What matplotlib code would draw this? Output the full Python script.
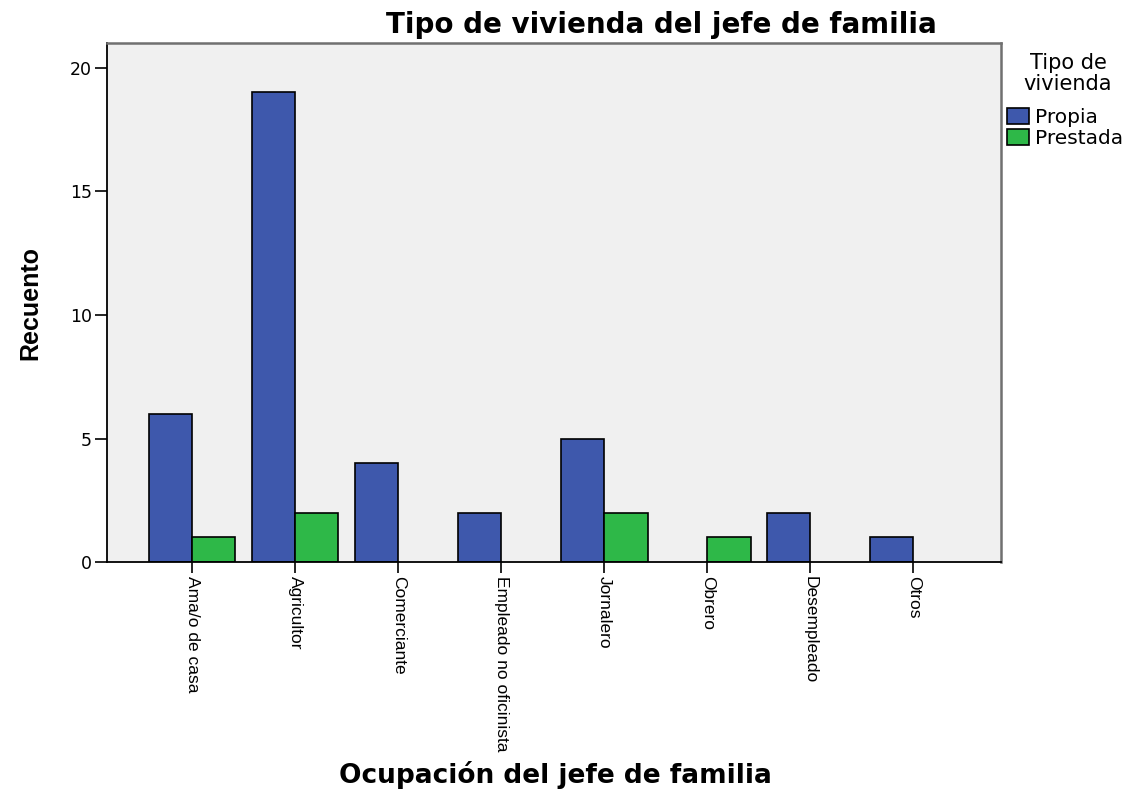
import matplotlib.pyplot as plt
import numpy as np

# Data
ocupaciones = ['Ama/o de casa', 'Agricultor', 'Comerciante', 'Empleado no oficinista',
               'Jornalero', 'Obrero', 'Desempleado', 'Otros']
propia = [6, 19, 4, 2, 5, 0, 2, 1]
prestada = [1, 2, 0, 0, 2, 1, 0, 0]

plt.rcParams['font.family'] = ['DejaVu Sans']

fig = plt.figure(figsize=(11.35, 7.94), dpi=100)
ax = fig.add_axes([0.0943, 0.292, 0.7877, 0.654])
ax.set_facecolor('#F0F0F0')

x = np.arange(len(ocupaciones))
w = 0.42
# no outline for empty bars
lw_a = [1.2 if v > 0 else 0 for v in propia]
lw_b = [1.2 if v > 0 else 0 for v in prestada]
ax.bar(x - w / 2, propia, w, color='#3E58AC', edgecolor='black', linewidth=lw_a, label='Propia')
ax.bar(x + w / 2, prestada, w, color='#2EB848', edgecolor='black', linewidth=lw_b, label='Prestada')

ax.set_xlim(-0.825, 7.85)
ax.set_ylim(0, 21)
ax.set_yticks([0, 5, 10, 15, 20])
ax.set_xticks(x)
ax.set_xticklabels(ocupaciones, rotation=-90, fontsize=12.5, va='top', ha='center',
                   family='Liberation Sans')
ax.tick_params(axis='y', length=9, width=1.2, labelsize=12.5, pad=2)
ax.tick_params(axis='x', length=8, width=1.2, pad=2)

for s in ['left', 'bottom']:
    ax.spines[s].set_color('black')
    ax.spines[s].set_linewidth(1.3)
for s in ['top', 'right']:
    ax.spines[s].set_color('#707070')
    ax.spines[s].set_linewidth(1.8)

ax.set_ylabel('Recuento', fontsize=18, fontweight='bold', labelpad=20, family='Liberation Sans')
fig.text(0.489, 0.024, 'Ocupación del jefe de familia', fontsize=19, fontweight='bold',
         ha='center', va='center')
fig.text(0.583, 0.968, 'Tipo de vivienda del jefe de familia', fontsize=20, fontweight='bold',
         ha='center', va='center')

# legend title drawn on its own, entries below it
fig.text(0.941, 0.907, 'Tipo de\nvivienda', fontsize=15, ha='center', va='center',
         linespacing=1.05)
ax.legend(loc='upper left', bbox_to_anchor=(1.0067, 0.875),
          frameon=False, fontsize=14.5, handlelength=1.1, handleheight=0.85,
          handletextpad=0.3, labelspacing=0.1, borderaxespad=0, borderpad=0)

fig.savefig('out.png', dpi=100)
